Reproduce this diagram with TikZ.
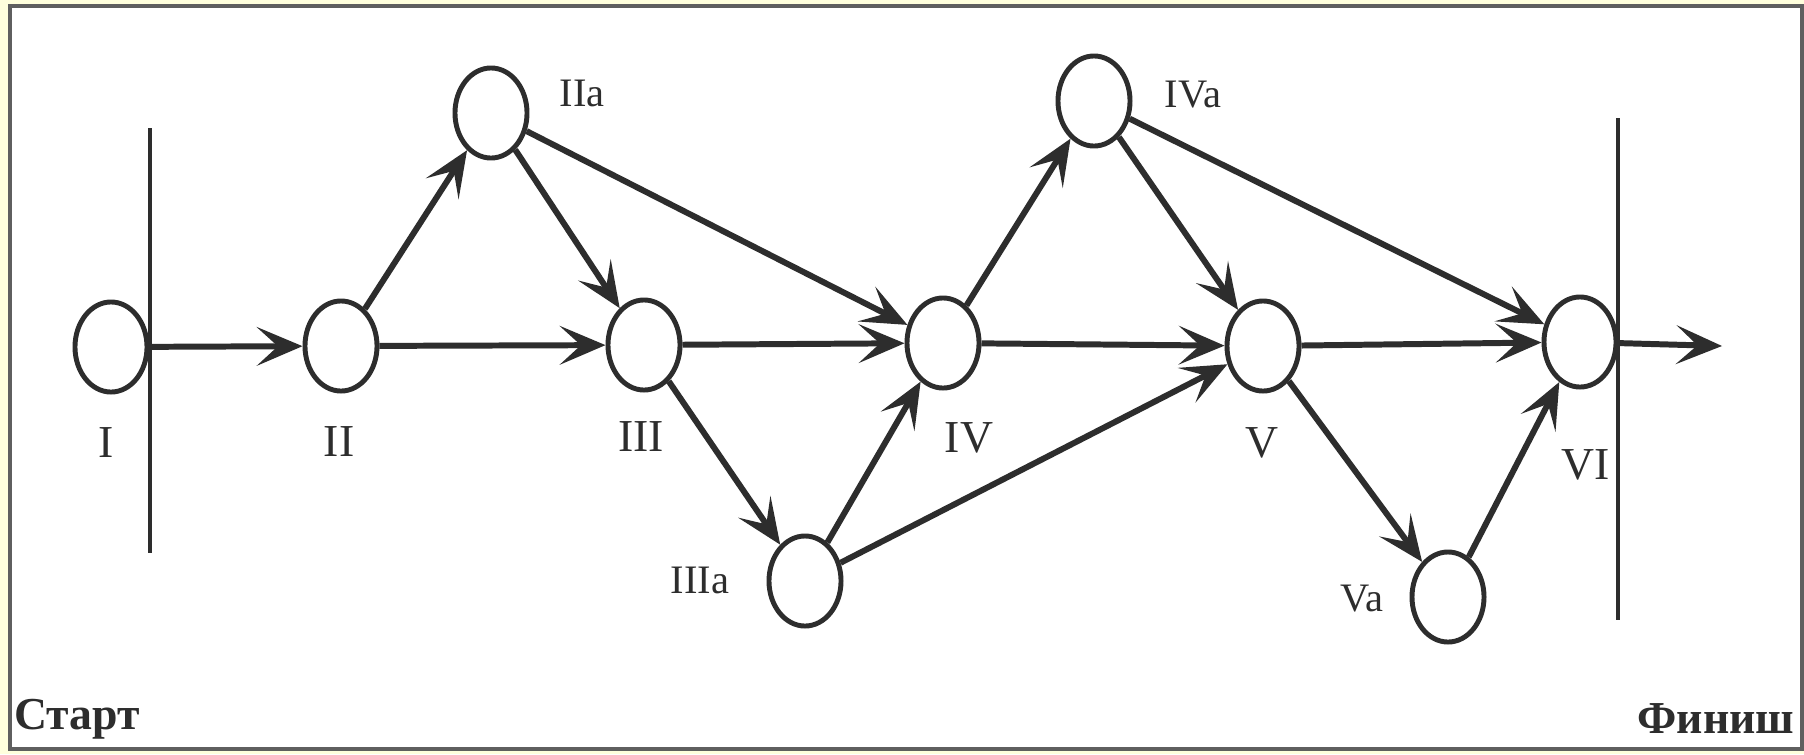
\documentclass[tikz,border=0pt]{standalone}
\usepackage{fontspec}
\setmainfont{Liberation Serif}
\usetikzlibrary{shapes.geometric,arrows.meta}
\definecolor{scanyellow}{RGB}{255,255,221}
\definecolor{framegray}{RGB}{95,95,95}
\definecolor{ink}{RGB}{45,45,45}

\begin{document}
\begin{tikzpicture}[x=0.01cm,y=-0.01cm,
    ev/.style={draw=ink,ellipse,line width=1.4pt,minimum width=0.72cm,minimum height=0.9cm,inner sep=0pt},
    arr/.style={draw=ink,line width=1.7pt,-{Stealth[length=13pt,width=11pt,inset=6pt]}},
    lab/.style={text=ink,font=\fontsize{13}{15}\selectfont,inner sep=0pt},
    slab/.style={text=ink,font=\fontsize{11.5}{13}\selectfont,inner sep=0pt},
    side/.style={text=ink,font=\bfseries\fontsize{13}{15}\selectfont,inner sep=0pt}]

  \fill[scanyellow] (0,0) rectangle (1804,754);
  \useasboundingbox (0,0) rectangle (1804,754);
  \draw[framegray,line width=1pt,fill=white] (10,6) rectangle (1802,749);

  % start and finish lines
  \draw[ink,line width=1.3pt] (150,128) -- (150,553);
  \draw[ink,line width=1.3pt] (1618,118) -- (1618,620);

  % events
  \node[ev] (I)    at (111,347) {};
  \node[ev] (II)   at (341,346) {};
  \node[ev] (IIa)  at (491,113) {};
  \node[ev] (III)  at (644,345) {};
  \node[ev] (IIIa) at (805,581) {};
  \node[ev] (IV)   at (943,343) {};
  \node[ev] (IVa)  at (1094,101) {};
  \node[ev] (V)    at (1263,346) {};
  \node[ev] (Va)   at (1448,597) {};
  \node[ev] (VI)   at (1580,342) {};
  \coordinate (out) at (1722,346);

  \node[lab]  (lI)    at (106,443)  {I};
  \node[lab]  (lII)   at (339,442)  {II};
  \node[lab]  (lIII)  at (641,437)  {III};
  \node[lab]  (lIV)   at (969,438)  {IV};
  \node[lab]  (lV)    at (1262,443) {V};
  \node[lab]  (lVI)   at (1586,465) {VI};
  \node[slab] (lIIa)  at (582,93)   {IIa};
  \node[slab] (lIIIa) at (700,580)  {IIIa};
  \node[slab] (lIVa)  at (1193,95)  {IVa};
  \node[slab] (lVa)   at (1362,599) {Va};

  \node[side] (start)  at (77,719)   {Старт};
  \node[side] (finish) at (1716,719) {Финиш};

  % works
  \foreach \a/\b in {I/II,II/IIa,II/III,IIa/III,IIa/IV,III/IV,III/IIIa,IIIa/IV,IIIa/V,
                     IV/IVa,IV/V,IVa/V,IVa/VI,V/VI,V/Va,Va/VI} {
    \draw[arr] (\a) -- (\b);
  }
  \draw[arr] (VI) -- (out);
\end{tikzpicture}
\end{document}
